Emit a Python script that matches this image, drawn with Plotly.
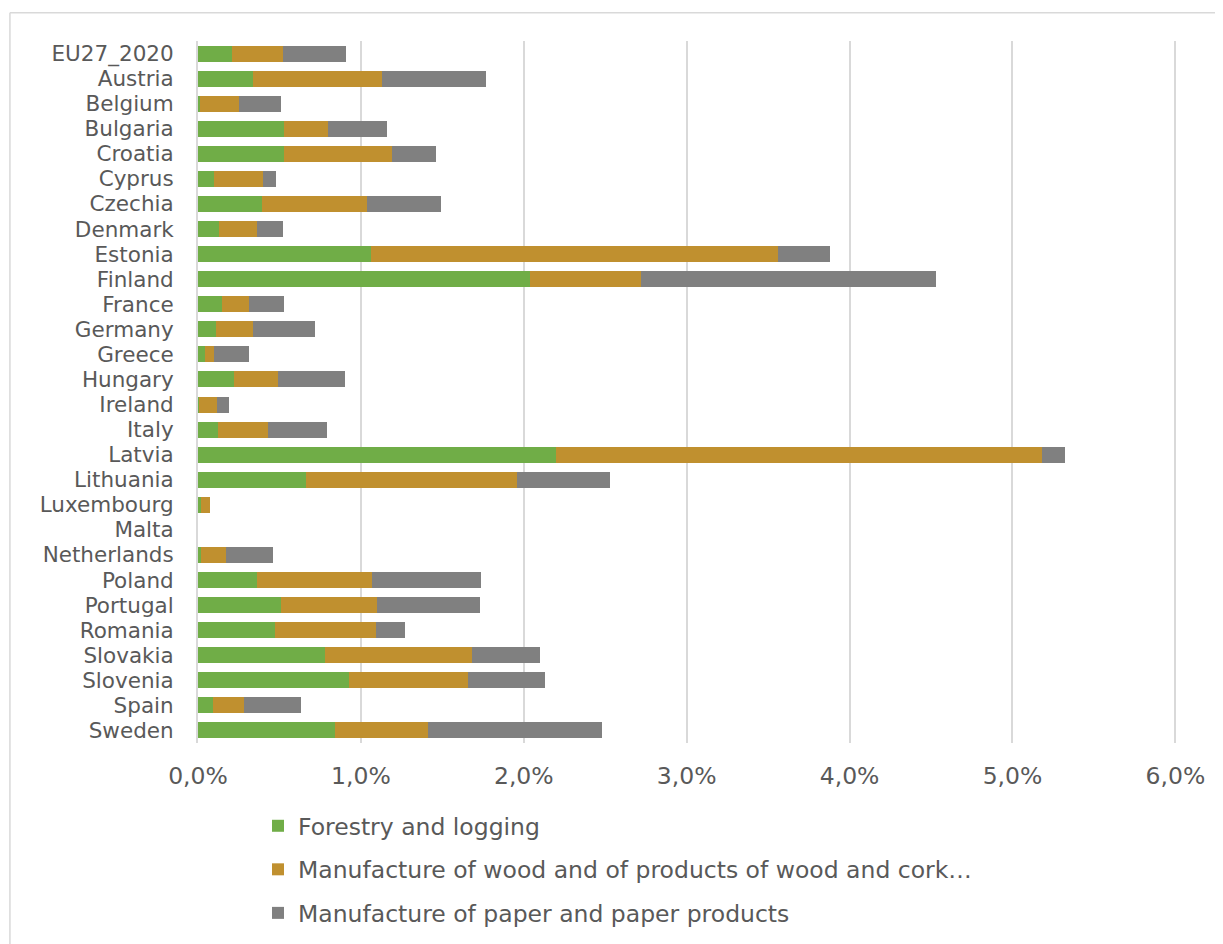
import plotly.graph_objects as go

countries = ["EU27_2020", "Austria", "Belgium", "Bulgaria", "Croatia", "Cyprus", "Czechia",
             "Denmark", "Estonia", "Finland", "France", "Germany", "Greece", "Hungary",
             "Ireland", "Italy", "Latvia", "Lithuania", "Luxembourg", "Malta", "Netherlands",
             "Poland", "Portugal", "Romania", "Slovakia", "Slovenia", "Spain", "Sweden"]

forestry = [0.21, 0.34, 0.01, 0.53, 0.53, 0.10, 0.39, 0.13, 1.06, 2.04, 0.15, 0.11, 0.04, 0.22,
            0.005, 0.12, 2.20, 0.66, 0.02, 0.0, 0.02, 0.36, 0.51, 0.47, 0.78, 0.93, 0.095, 0.84]
wood = [0.31, 0.79, 0.24, 0.27, 0.66, 0.30, 0.65, 0.23, 2.50, 0.68, 0.16, 0.23, 0.06, 0.27,
        0.11, 0.31, 2.98, 1.30, 0.055, 0.0, 0.15, 0.71, 0.59, 0.62, 0.90, 0.73, 0.185, 0.57]
paper = [0.39, 0.64, 0.26, 0.36, 0.27, 0.08, 0.45, 0.16, 0.32, 1.81, 0.22, 0.38, 0.21, 0.41,
         0.075, 0.36, 0.14, 0.57, 0.0, 0.0, 0.29, 0.67, 0.63, 0.18, 0.42, 0.47, 0.35, 1.07]

series_names = ["Forestry and logging",
                "Manufacture of wood and of products of wood and cork\u2026",
                "Manufacture of paper and paper products"]

tick_values = [0, 1, 2, 3, 4, 5, 6]
tick_labels = ["0,0%", "1,0%", "2,0%", "3,0%", "4,0%", "5,0%", "6,0%"]

colors = ["#70AD47", "#C0902F", "#808080"]

# figure sized to fit inside the page body (8px default body margin)
W, H = 1215, 936
ML, MR, MT, MB = 190, 46.4, 33, 200.5
FONT = "DejaVu Sans"
FS = 23.5
FS_Y = 21.5
TXT = "#595959"
GRID = "#d9d9d9"

fig = go.Figure()
for i, (name, vals) in enumerate(zip(series_names, [forestry, wood, paper])):
    fig.add_trace(go.Bar(
        y=countries, x=vals, name=name, orientation="h",
        marker=dict(color=colors[i], line=dict(width=0)),
        legendgroup=f"g{i}",
    ))

pw = W - ML - MR
ph = H - MT - MB
bx0 = (2 - ML) / pw
by0 = (H - MB - 4.7) / ph

fig.update_layout(
    width=W, height=H,
    barmode="stack", bargap=0.36,
    margin=dict(l=ML, r=MR, t=MT, b=MB, autoexpand=False),
    paper_bgcolor="white", plot_bgcolor="white",
    font=dict(family=FONT, size=FS, color=TXT),
    showlegend=True,
    legend=dict(
        xref="container", yref="container",
        x=(270 - 20) / W, y=1 - 796 / H, xanchor="left", yanchor="top",
        traceorder="grouped", tracegroupgap=10,
        font=dict(family=FONT, size=FS, color=TXT),
        bgcolor="rgba(0,0,0,0)",
    ),
    xaxis=dict(
        range=[0, 6.01], tickmode="array", tickvals=tick_values, ticktext=tick_labels,
        showgrid=True, gridcolor=GRID, gridwidth=2, zeroline=False,
        showline=False, ticks="", ticklabelstandoff=16,
        tickfont=dict(family=FONT, size=FS, color=TXT),
    ),
    yaxis=dict(
        autorange="reversed", tickmode="array", tickvals=countries, ticktext=countries,
        showgrid=False, zeroline=False, showline=True, linecolor=GRID, linewidth=2,
        ticks="", ticklabelstandoff=18,
        tickfont=dict(family=FONT, size=FS_Y, color=TXT),
    ),
    shapes=[
        dict(type="line", xref="paper", yref="paper", x0=bx0, x1=bx0, y0=by0, y1=-1,
             line=dict(color=GRID, width=1.5)),
        dict(type="line", xref="paper", yref="paper", x0=bx0, x1=1.2, y0=by0, y1=by0,
             line=dict(color=GRID, width=1.5)),
    ],
)

fig.write_html("out.html")
